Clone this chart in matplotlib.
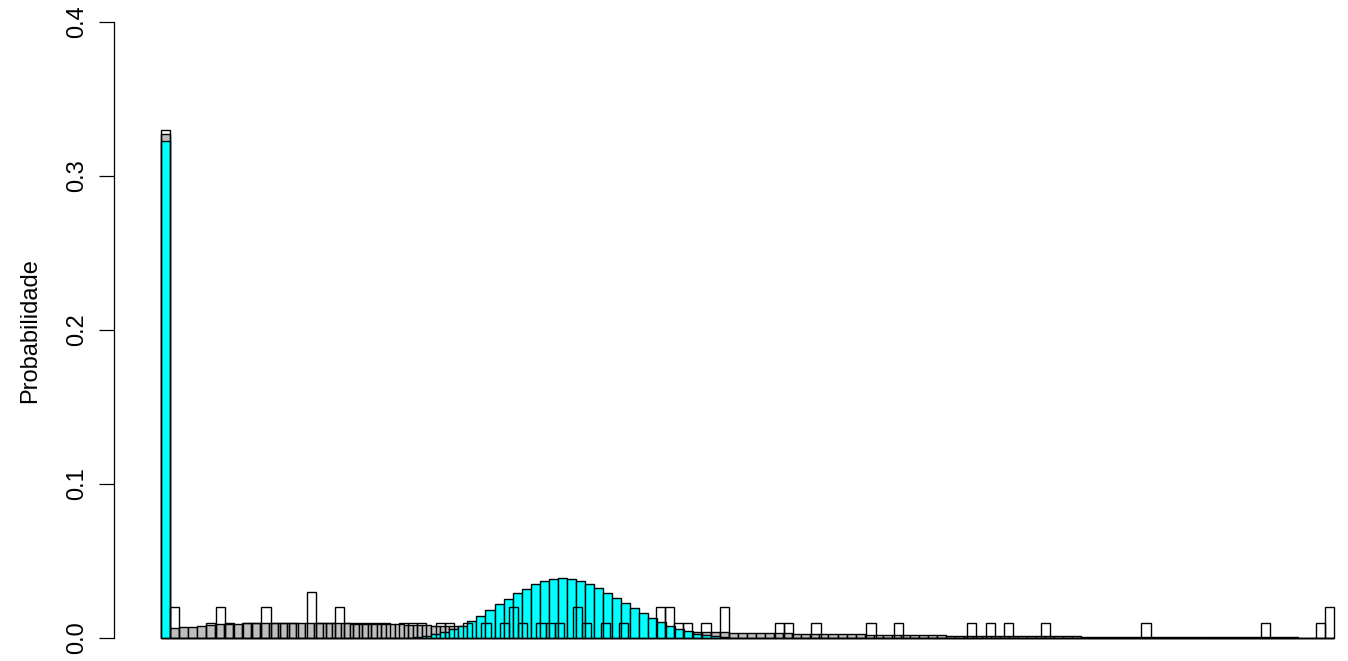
import numpy as np
import matplotlib
matplotlib.use('Agg')
import matplotlib.pyplot as plt

plt.rcParams['font.family'] = ['Liberation Sans', 'DejaVu Sans']

# observed frequencies (n = 100), values 0..127
n_obs = 100
obs_max = 127
obs_k = [0, 1, 5, 6, 7, 9, 10, 11, 12, 13, 14, 16, 17, 18, 19, 20, 21, 22, 23, 24,
         26, 27, 28, 30, 31, 33, 35, 37, 38, 39, 41, 42, 43, 45, 46, 48, 50, 54, 55,
         56, 57, 59, 61, 67, 68, 71, 77, 80, 88, 90, 92, 96, 107, 120, 126, 127]
obs_n = [33, 2, 1, 2, 1, 1, 1, 2, 1, 1, 1, 3, 1, 1, 2, 1, 1, 1, 1, 1,
         1, 1, 1, 1, 1, 1, 1, 1, 2, 1, 1, 1, 1, 2, 1, 1, 1, 2, 2,
         1, 1, 1, 2, 1, 1, 1, 1, 1, 1, 1, 1, 1, 1, 1, 1, 2]

# fitted probabilities, values 0..129
p_gray = [0.327, 0.0063, 0.0069, 0.0074, 0.0080, 0.0085, 0.0089, 0.0092, 0.0094, 0.0095,
          0.0096, 0.0097, 0.0097, 0.0097, 0.0097, 0.0097, 0.0097, 0.0096, 0.0096, 0.0095,
          0.0095, 0.0094, 0.0093, 0.0092, 0.0091, 0.0090, 0.0088, 0.0087, 0.0085, 0.0083,
          0.0081, 0.0079, 0.0077, 0.0076, 0.0074, 0.0072, 0.0071, 0.0069, 0.0067, 0.0066,
          0.0064, 0.0063, 0.0061, 0.0060, 0.0058, 0.0057, 0.0055, 0.0054, 0.0053, 0.0051,
          0.0050, 0.0049, 0.0047, 0.0046, 0.0045, 0.0044, 0.0043, 0.0041, 0.0040, 0.0039,
          0.0038, 0.0037, 0.0036, 0.0035, 0.0034, 0.0033, 0.0032, 0.0031, 0.0030, 0.0030,
          0.0029, 0.0028, 0.0027, 0.0026, 0.0025, 0.0025, 0.0024, 0.0023, 0.0022, 0.0022,
          0.0021, 0.0020, 0.0020, 0.0019, 0.0018, 0.0018, 0.0017, 0.0016, 0.0016, 0.0015,
          0.0015, 0.0014, 0.0014, 0.0013, 0.0013, 0.0012, 0.0012, 0.0011, 0.0011, 0.0011,
          0.0010, 0.0010, 0.0009, 0.0009, 0.0009, 0.0008, 0.0008, 0.0008, 0.0007, 0.0007,
          0.0007, 0.0007, 0.0006, 0.0006, 0.0006, 0.0006, 0.0005, 0.0005, 0.0005, 0.0005,
          0.0005, 0.0004, 0.0004, 0.0004, 0.0004, 0.0004, 0.0003, 0.0003, 0.0003, 0.0003]
p_cyan = ([0.3227] + [0.0] * 25 +
          [0.0001, 0.0003, 0.0006, 0.0012, 0.0023, 0.0040, 0.0060, 0.0080, 0.0110, 0.0145,
           0.0182, 0.0219, 0.0255, 0.0290, 0.0320, 0.0350, 0.0372, 0.0386, 0.0392, 0.0386,
           0.0372, 0.0351, 0.0325, 0.0293, 0.0260, 0.0225, 0.0193, 0.0162, 0.0133, 0.0106,
           0.0081, 0.0060, 0.0043, 0.0029, 0.0018, 0.0011, 0.0006, 0.0003, 0.0002, 0.0001] +
          [0.0] * 64)

p_obs = np.zeros(obs_max + 1)
p_obs[obs_k] = np.array(obs_n) / n_obs

n_obs_bars = len(p_obs)
n_fit_bars = len(p_gray)
# each barplot spans the same width (drawn over each other like par(new=TRUE))
w_fit = n_obs_bars / n_fit_bars
x_fit = np.arange(n_fit_bars) * w_fit
x_obs = np.arange(n_obs_bars)

fig = plt.figure(figsize=(13.48, 6.61), dpi=100)
ax = fig.add_axes([114/1348, 0, 1 - 114/1348, 1])

lw = 1.0
ax.bar(x_fit, p_gray, width=w_fit, align='edge', color='#bebebe', edgecolor='black', linewidth=lw)
ax.bar(x_fit, p_cyan, width=w_fit, align='edge', color='cyan', edgecolor='black', linewidth=lw)
ax.bar(x_obs, p_obs, width=1, align='edge', color='none', edgecolor='black', linewidth=lw)

px = 1173 / n_obs_bars
ax.set_xlim(-46.5 / px, n_obs_bars + 14 / px)
ax.set_ylim(-23 / 1540, 0.4 + 22 / 1540)

for s in ['top', 'right', 'bottom']:
    ax.spines[s].set_visible(False)
ax.spines['left'].set_bounds(0, 0.4)
ax.spines['left'].set_linewidth(0.9)
ax.set_xticks([])
ax.set_yticks([0.0, 0.1, 0.2, 0.3, 0.4])
ax.set_yticklabels(['0.0', '0.1', '0.2', '0.3', '0.4'], rotation=90, va='center')
ax.tick_params(axis='y', length=10.8, width=0.9, labelsize=17, pad=8)
ax.set_ylabel('Probabilidade', fontsize=17, labelpad=18)

fig.savefig('out.png', dpi=100)
